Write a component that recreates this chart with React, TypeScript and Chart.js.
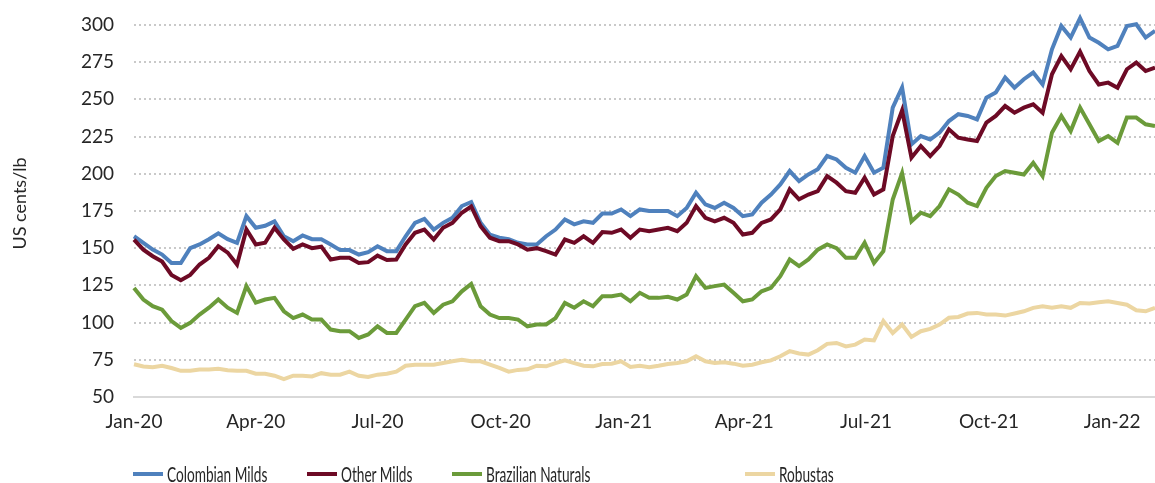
import React, { useEffect, useRef } from "react";
import { Chart, registerables } from "chart.js";

Chart.register(...registerables);

// Weekly observations starting 1 Jan 2020 (day 0), one point every 7 days
const stepDays = 7;

const xTickDays = [0, 91, 182, 274, 366, 456, 547, 639, 731];
const xTickLabels = ["Jan-20", "Apr-20", "Jul-20", "Oct-20", "Jan-21", "Apr-21", "Jul-21", "Oct-21", "Jan-22"];
const yTicks = [50, 75, 100, 125, 150, 175, 200, 225, 250, 275, 300];

const seriesNames = ["Colombian Milds", "Other Milds", "Brazilian Naturals", "Robustas"];
const seriesColors = ["#4f81bd", "#6d0a25", "#6b9b3a", "#ecd6a2"];

const colombianMilds = [
  158, 153.6, 149, 145.7, 140, 140, 150, 152.5, 156, 160, 156, 153.6, 171.5, 163.7, 165, 168, 158, 154.7, 158.5, 156, 156, 152.5,
  148.7, 148.7, 145.7, 147.3, 151.3, 148, 148, 158, 167, 169.7, 162.5, 167, 170.4, 178.3, 181, 167, 159, 157, 156, 153.6, 152.5, 152.5,
  158, 162.5, 169.3, 166, 168, 167, 173.3, 173.3, 176, 171.5, 176, 175, 175, 175, 171.5, 177, 187.2, 179.4, 177, 180.5, 177, 171.5,
  172.6, 180.5, 186, 192.8, 201.8, 195, 199.5, 203, 211.9, 209.6, 204, 200.7, 211.9, 200.7, 204, 244.4, 258, 219.7, 225.3, 223, 227.6, 235.4,
  240, 238.8, 236.5, 251.1, 254.5, 264.6, 257.8, 263.5, 268, 260, 283.6, 299.3, 291.5, 304.5, 291.5, 288, 283.6, 285.9, 299.3, 300.4, 291.5, 296,
];

const otherMilds = [
  155.8, 149, 144.6, 141, 132, 128.5, 132, 139, 143.5, 151.3, 147, 139, 162.5, 152.5, 153.6, 163.7, 155.8, 149.6, 152.5, 150, 151, 142.4,
  143.5, 143.5, 140, 140.6, 145, 142, 142.4, 152.5, 160.3, 162.5, 155.8, 163.7, 167, 173.8, 178, 164.8, 157, 154.7, 154.7, 152.5, 149, 150,
  148, 145.7, 155.8, 153.6, 158, 153.6, 160.8, 160.3, 162.5, 157, 162.5, 161.4, 162.5, 163.7, 161.4, 167, 178.3, 170.4, 168, 170.4, 167, 159.2,
  160.3, 167, 169.3, 176, 189.5, 182.8, 186, 188.3, 198.4, 194, 188.3, 187.2, 197.3, 186, 189.5, 225.3, 242.5, 210.8, 218.6, 211.9, 218.6, 229.8,
  224.2, 223, 222, 234.3, 238.8, 245.5, 241, 244.4, 246.6, 241, 266.8, 279, 270.2, 282, 269, 260, 261.2, 257.8, 270.2, 274.7, 269, 271.3,
];

const brazilianNaturals = [
  123.3, 115.5, 111, 108.7, 101, 96.4, 99.8, 105.4, 110, 115.5, 110, 106.5, 124.5, 113.4, 115.5, 116.6, 107.6, 103, 105.4, 102, 102, 95.3,
  94.2, 94.2, 89.7, 92, 97.5, 93, 93, 102, 111, 113.2, 106.5, 112, 114.3, 121, 126, 111, 105.4, 103, 103, 102, 97.5, 98.7,
  98.7, 103, 113.2, 110, 114.3, 111, 117.7, 117.7, 118.8, 114.3, 120, 116.6, 116.6, 117.3, 115.5, 118.8, 131.2, 123.3, 124.5, 125.5, 120, 114.3,
  115.5, 121, 123.3, 131.2, 142.4, 138, 142.4, 149, 152.5, 150, 143.5, 143.5, 153.6, 140, 148, 182.7, 200.5, 168, 173.8, 171.5, 178.3, 189.5,
  186, 180.5, 178.3, 190.6, 198.4, 201.8, 200.7, 199.5, 207.4, 198.4, 227.6, 238.8, 228.7, 244.4, 233.2, 222, 225.3, 220.8, 237.7, 237.7, 233.2, 232,
];

const robustas = [
  72, 70.5, 70, 71, 69.5, 67.6, 67.6, 68.4, 68.4, 68.9, 68, 67.6, 67.6, 65.6, 65.6, 64.3, 62, 64.3, 64.3, 63.8, 66, 64.9,
  65, 67, 64.3, 63.4, 65, 65.6, 67, 71, 71.7, 71.7, 71.7, 72.8, 74, 75, 74, 74, 71.7, 69.5, 67, 68.2, 68.6, 71,
  70.6, 72.8, 74.6, 72.8, 71, 70.6, 72.2, 72.4, 74, 70.2, 71, 70, 71, 72.2, 72.8, 74, 77.4, 74, 72.8, 73.3, 72.4, 71,
  71.7, 73.3, 74.6, 77.4, 80.8, 79.2, 78.5, 81.4, 85.7, 86.3, 84, 85.2, 88.6, 88, 101, 93, 98.7, 90.4, 94.2, 95.8, 98.7, 103.2,
  103.8, 106.1, 106.5, 105.4, 105.4, 104.7, 106.1, 107.6, 109.9, 111, 109.9, 111, 109.9, 113.2, 112.8, 113.7, 114.3, 113.2, 112, 108.3, 107.6, 109.9,
];

const legendLeft = [133, 307, 452, 745];

export default function App() {
  const ref = useRef<HTMLCanvasElement>(null);

  useEffect(() => {
    const all = [colombianMilds, otherMilds, brazilianNaturals, robustas];
    const chart = new Chart(ref.current as HTMLCanvasElement, {
      type: "line",
      data: {
        datasets: all.map((vals, k) => ({
          label: seriesNames[k],
          data: vals.map((v, i) => ({ x: i * stepDays, y: v })),
          borderColor: seriesColors[k],
          backgroundColor: seriesColors[k],
          borderWidth: 4,
          pointRadius: 0,
          tension: 0,
          clip: false,
          order: 3 - k,
        })),
      },
      options: {
        animation: false,
        responsive: false,
        maintainAspectRatio: false,
        layout: { padding: { top: 10, right: 0, left: 0, bottom: 0 } },
        plugins: { legend: { display: false }, tooltip: { enabled: false } },
        scales: {
          x: {
            type: "linear",
            min: 0,
            max: 763,
            grid: { display: false, drawTicks: false },
            border: { display: true, color: "#d9d9d9", width: 2 },
            afterBuildTicks: (s: any) => {
              s.ticks = xTickDays.map((v) => ({ value: v }));
            },
            afterFit: (s: any) => {
              s.height = 86;
              s.paddingLeft = 0;
              s.paddingRight = 0;
            },
            ticks: {
              autoSkip: false,
              maxRotation: 0,
              padding: 13,
              color: "#262626",
              font: { family: "Lato", size: 19 },
              callback: (_v: any, i: number) => xTickLabels[i],
            },
          },
          y: {
            type: "linear",
            min: 50,
            max: 310,
            afterBuildTicks: (s: any) => {
              s.ticks = yTicks.map((v) => ({ value: v }));
            },
            afterFit: (s: any) => {
              s.width = 134;
              s.paddingTop = 0;
              s.paddingBottom = 0;
            },
            grid: {
              color: (c: any) => (c.tick && c.tick.value === 50 ? "rgba(0,0,0,0)" : "#c9c9c9"),
              lineWidth: 2,
              drawTicks: false,
            },
            border: { display: false, dash: [2, 3] },
            ticks: {
              padding: 20,
              color: "#262626",
              font: { family: "Lato", size: 19 },
            },
            title: {
              display: true,
              text: "US cents/lb",
              color: "#262626",
              font: { family: "Lato", size: 18 },
              padding: { top: 9, bottom: 0 },
            },
          },
        },
      },
    });
    return () => chart.destroy();
  }, []);

  return (
    <div style={{ position: "fixed", left: 0, top: 0, width: 1155, height: 483, background: "#fff" }}>
      <canvas ref={ref} width={1155} height={483} style={{ display: "block" }} />
      {seriesNames.map((name, k) => (
        <div
          key={name}
          style={{
            position: "absolute",
            left: legendLeft[k],
            top: 461,
            height: 26,
            display: "flex",
            alignItems: "center",
            whiteSpace: "nowrap",
          }}
        >
          <span style={{ display: "inline-block", width: 30, height: 4, background: seriesColors[k], marginRight: 4 }} />
          <span
            style={{
              display: "inline-block",
              fontFamily: "Lato, sans-serif",
              fontSize: 21,
              lineHeight: "26px",
              color: "#262626",
              transform: "scaleX(0.65)",
              transformOrigin: "left center",
            }}
          >
            {name}
          </span>
        </div>
      ))}
    </div>
  );
}
